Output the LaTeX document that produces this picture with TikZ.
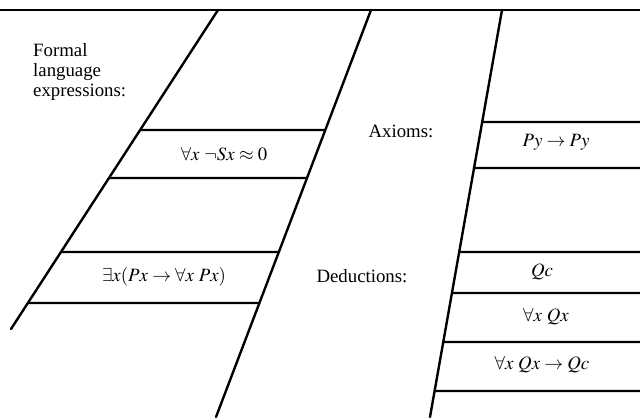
\documentclass[tikz,border=0pt]{standalone}
\usepackage{mathptmx}
\usepackage{fontspec}
\setmainfont{Liberation Serif}
\usetikzlibrary{calc}

\begin{document}
\begin{tikzpicture}[
  x=1pt, y=-1pt,
  border/.style={line width=2.4pt, line cap=round},
  rung/.style={line width=2.1pt},
  formula/.style={font=\fontsize{18.8}{20}\selectfont, inner sep=0pt},
  heading/.style={font=\fontsize{18.8}{20}\selectfont, inner sep=0pt, anchor=base}
]
\useasboundingbox (0,0) rectangle (640,419);

% frame lines
\coordinate (topl) at (0,10);
\coordinate (topr) at (640,10);
\coordinate (lt) at (218,10);
\coordinate (lb) at (11,329);
\coordinate (rt) at (371,10);
\coordinate (rb) at (216,417);
\coordinate (st) at (502,10);
\coordinate (sb) at (430,417);

\draw[border] (topl) -- (topr);
\draw[border] (lt) -- (lb);
\draw[border] (rt) -- (rb);
\draw[border] (st) -- (sb);

% rungs of the left strip
\foreach \y in {130,178,252,303}
  \draw[rung] ($(lt)!{(\y-10)/319}!(lb)$) -- ($(rt)!{(\y-10)/407}!(rb)$);
% rungs of the right strip
\foreach \y in {122,168,252,293,342,391}
  \draw[rung] ($(st)!{(\y-10)/407}!(sb)$) -- (640,\y);

% labels
\node[font=\fontsize{18.8}{20}\selectfont, inner sep=0pt, align=left, anchor=north west]
  (lang) at (33,43) {Formal\\language\\expressions:};
\node[heading] (axioms) at (401,138) {Axioms:};
\node[heading] (deduct) at (362,283) {Deductions:};

% expressions
\node[formula] (notsucc) at (224,154) {$\forall x\ \neg Sx\approx 0$};
\node[formula] (drinker) at (164,277) {$\exists x(Px\rightarrow\forall x\ Px)$};
\node[formula] (axpy) at (556,142) {$Py\rightarrow Py$};
\node[formula] (dqc) at (542,272) {$Qc$};
\node[formula] (dall) at (546,317) {$\forall x\ Qx$};
\node[formula] (dinst) at (542,365) {$\forall x\ Qx\rightarrow Qc$};

\end{tikzpicture}
\end{document}
